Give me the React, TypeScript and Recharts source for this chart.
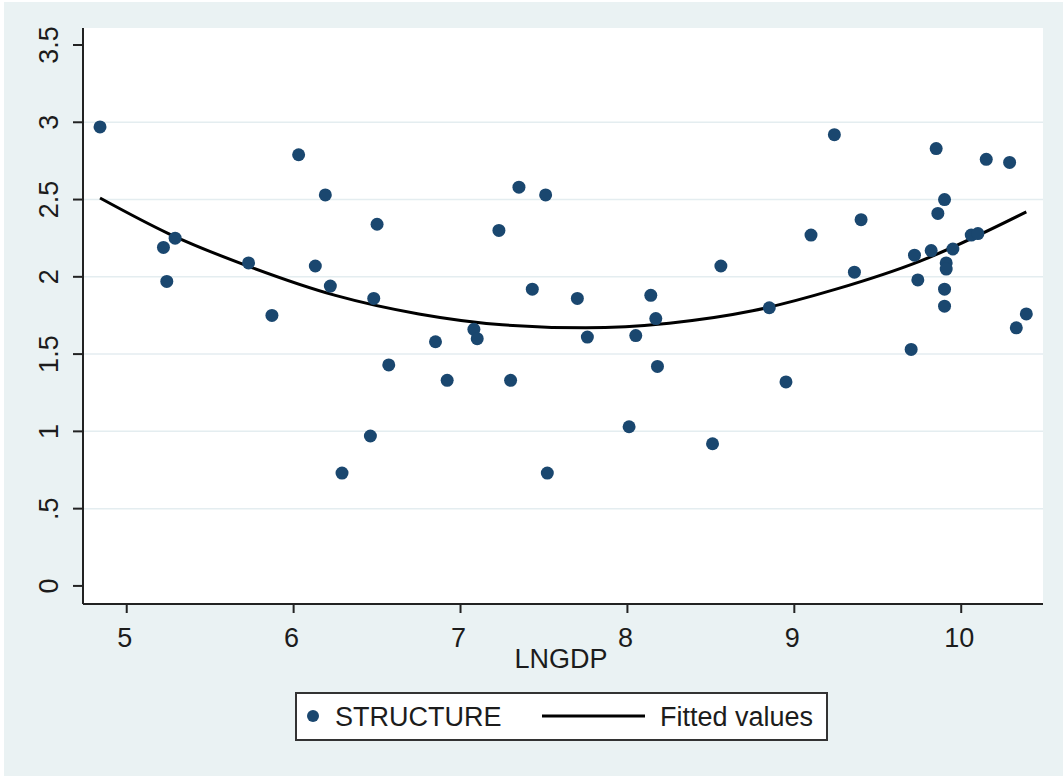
import React from 'react';
import { ComposedChart, Scatter, Line, XAxis, YAxis, CartesianGrid, Legend, Label } from 'recharts';

const lngdp = [
  4.84, 5.22, 5.24, 5.29, 5.73, 5.87, 6.03, 6.13, 6.19, 6.22,
  6.29, 6.46, 6.48, 6.5, 6.57, 6.85, 6.92, 7.08, 7.1, 7.23,
  7.3, 7.35, 7.43, 7.51, 7.52, 7.7, 7.76, 8.01, 8.05, 8.14,
  8.17, 8.18, 8.51, 8.56, 8.85, 8.95, 9.1, 9.24, 9.36, 9.4,
  9.7, 9.72, 9.74, 9.82, 9.85, 9.86, 9.9, 9.9, 9.9, 9.91,
  9.91, 9.95, 10.06, 10.1, 10.15, 10.29, 10.33, 10.39,
];
const structure = [
  2.97, 2.19, 1.97, 2.25, 2.09, 1.75, 2.79, 2.07, 2.53, 1.94,
  0.73, 0.97, 1.86, 2.34, 1.43, 1.58, 1.33, 1.66, 1.6, 2.3,
  1.33, 2.58, 1.92, 2.53, 0.73, 1.86, 1.61, 1.03, 1.62, 1.88,
  1.73, 1.42, 0.92, 2.07, 1.8, 1.32, 2.27, 2.92, 2.03, 2.37,
  1.53, 2.14, 1.98, 2.17, 2.83, 2.41, 2.5, 1.92, 1.81, 2.09,
  2.05, 2.18, 2.27, 2.28, 2.76, 2.74, 1.67, 1.76,
];

// fitted values
const fitX = [4.84, 5.25, 5.75, 6.25, 6.75, 7.25, 7.75, 8.25, 8.75, 9.25, 9.75, 10.39];
const fitY = [2.51, 2.28, 2.06, 1.88, 1.76, 1.69, 1.67, 1.7, 1.78, 1.92, 2.1, 2.42];

const xTicks = [5, 6, 7, 8, 9, 10];
const yTicks = [0, 0.5, 1, 1.5, 2, 2.5, 3, 3.5];
const yTickLabels = ['0', '.5', '1', '1.5', '2', '2.5', '3', '3.5'];
const gridValues = [0.5, 1, 1.5, 2, 2.5, 3];

const scatterData = lngdp.map((x, i) => ({ x, y: structure[i] }));
const fitData = fitX.map((x, i) => ({ x, y: fitY[i] }));

const FONT = "'Liberation Sans', Arial, sans-serif";
const NAVY = '#1a476f';
const INK = '#1c1c1c';
const BG = '#eaf2f3';

const YTick = (props: any) => {
  const { x, y, payload } = props;
  const idx = yTicks.indexOf(payload.value);
  return (
    <text
      x={x}
      y={y}
      transform={`rotate(-90, ${x}, ${y})`}
      textAnchor="middle"
      fontSize={27}
      fontFamily={FONT}
      fill={INK}
    >
      {yTickLabels[idx]}
    </text>
  );
};

const XTick = (props: any) => {
  const { x, y, payload } = props;
  return (
    <text x={x - 2} y={y} textAnchor="middle" fontSize={27} fontFamily={FONT} fill={INK}>
      {payload.value}
    </text>
  );
};

const Dot = (props: any) => <circle cx={props.cx} cy={props.cy} r={6.5} fill={NAVY} />;

const LegendBox = () => (
  <svg width={533} height={49} style={{ display: 'block' }}>
    <rect x={1} y={1} width={531} height={47} fill="#fff" stroke="#333" strokeWidth={2} />
    <circle cx={18} cy={24} r={6} fill={NAVY} />
    <text x={40} y={34} fontSize={27} fontFamily={FONT} fill={INK}>STRUCTURE</text>
    <line x1={247} x2={350} y1={24} y2={24} stroke="#000" strokeWidth={3} />
    <text x={365} y={34} fontSize={27} fontFamily={FONT} fill={INK}>Fitted values</text>
  </svg>
);

const App = () => {
  return (
    <div style={{ position: 'absolute', left: 0, top: 0, width: 1063, height: 776, background: '#fff' }}>
      <div style={{ position: 'absolute', left: 4, top: 2, width: 1059, height: 774, background: BG }} />
      <div style={{ position: 'absolute', left: 0, top: 0 }}>
        <ComposedChart
          width={1063}
          height={776}
          margin={{ top: 28, right: 20, left: 23, bottom: 112 }}
        >
          <CartesianGrid
            fill="#fff"
            vertical={false}
            horizontalValues={gridValues}
            stroke="#e4edf0"
            strokeWidth={1.5}
          />
          <XAxis
            dataKey="x"
            type="number"
            domain={[4.738, 10.49]}
            ticks={xTicks}
            allowDataOverflow
            height={60}
            tickSize={9}
            tickMargin={34}
            axisLine={{ stroke: '#222', strokeWidth: 2 }}
            tickLine={{ stroke: '#222', strokeWidth: 2 }}
            tick={<XTick />}
          >
            <Label
              content={(p: any) => {
                const vb = p.viewBox || { x: 83, y: 604, width: 960 };
                return (
                  <text
                    x={vb.x + vb.width / 2 - 2}
                    y={vb.y + 64}
                    textAnchor="middle"
                    fontSize={27}
                    fontFamily={FONT}
                    fill={INK}
                  >
                    LNGDP
                  </text>
                );
              }}
            />
          </XAxis>
          <YAxis
            dataKey="y"
            type="number"
            domain={[-0.117, 3.61]}
            ticks={yTicks}
            allowDataOverflow
            width={60}
            tickSize={10}
            tickMargin={14.5}
            axisLine={{ stroke: '#222', strokeWidth: 2 }}
            tickLine={{ stroke: '#222', strokeWidth: 2 }}
            tick={<YTick />}
          />
          <Scatter
            name="STRUCTURE"
            data={scatterData}
            dataKey="y"
            fill={NAVY}
            shape={<Dot />}
            isAnimationActive={false}
          />
          <Line
            name="Fitted values"
            data={fitData}
            dataKey="y"
            type="monotone"
            stroke="#000"
            strokeWidth={3}
            dot={false}
            activeDot={false}
            isAnimationActive={false}
          />
          <Legend
            layout="horizontal"
            verticalAlign="middle"
            align="center"
            wrapperStyle={{ position: 'absolute', left: 295, top: 692, width: 533, height: 49 }}
            content={() => <LegendBox />}
          />
        </ComposedChart>
      </div>
    </div>
  );
};

export default App;
